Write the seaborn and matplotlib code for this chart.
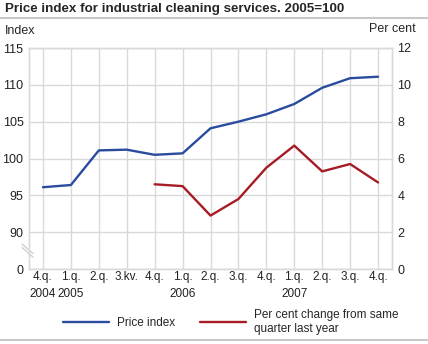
import matplotlib
matplotlib.use("Agg")
import matplotlib.pyplot as plt
import seaborn as sns
import pandas as pd
import numpy as np

sns.set_style("white")
plt.rcParams['font.family'] = ['Liberation Sans', 'DejaVu Sans']

quarters = ["4.q.\n2004", "1.q.\n2005", "2.q.", "3.kv.", "4.q.", "1.q.\n2006", "2.q.",
            "3.q.", "4.q.", "1.q.\n2007", "2.q.", "3.q.", "4.q."]
price_index = [96.1, 96.4, 101.1, 101.2, 100.5, 100.7, 104.1, 105.0, 106.0, 107.4, 109.6, 110.9, 111.1]
pct_change = [np.nan, np.nan, np.nan, np.nan, 4.6, 4.5, 2.9, 3.8, 5.5, 6.7, 5.3, 5.7, 4.7]

left_ticks = [85, 90, 95, 100, 105, 110, 115]
left_labels = ["0", "90", "95", "100", "105", "110", "115"]
right_ticks = [0, 2, 4, 6, 8, 10, 12]

blue = "#2a4b9e"
red = "#a51c24"
grid_c = "#d9d9d9"

df = pd.DataFrame({"x": np.arange(len(quarters)), "idx": price_index, "pct": pct_change})

fig = plt.figure(figsize=(4.28, 3.44), dpi=100)
ax = fig.add_axes([29/428, 75/344, 363/428, 221/344])
ax2 = ax.twinx()

sns.lineplot(data=df, x="x", y="idx", ax=ax, color=blue, lw=1.7, label="Price index", legend=False)
sns.lineplot(data=df.dropna(), x="x", y="pct", ax=ax2, color=red, lw=1.7,
             label="Per cent change from same\nquarter last year", legend=False)

ax.set_xlim(-0.5, len(quarters) - 0.5)
ax.set_ylim(85, 115)
ax2.set_ylim(0, 12)
ax.set_yticks(left_ticks)
ax.set_yticklabels(left_labels)
ax2.set_yticks(right_ticks)
ax.set_xticks(df["x"])
ax.set_xticklabels(quarters)
ax.set_xlabel("")
ax.set_ylabel("")
ax2.set_ylabel("")

ax.grid(True, color=grid_c, lw=1)
ax.set_axisbelow(True)
for a in (ax, ax2):
    for s in a.spines.values():
        s.set_color(grid_c)
        s.set_linewidth(1)
    a.tick_params(length=0, labelsize=9, colors="#222222", pad=4)
ax.tick_params(axis="x", labelsize=8.5, pad=1.5)
for lab in ax.get_xticklabels():
    lab.set_linespacing(1.6)

# axis break marker
ax.plot([0, 0], [0.068, 0.10], transform=ax.transAxes, color="white", lw=3,
        clip_on=False, zorder=5, solid_capstyle="butt")
for dy in (0, 0.016):
    ax.plot([-0.019, 0.011], [0.113 + dy - 0.016, 0.054 + dy], transform=ax.transAxes,
            color="#cfcfcf", lw=1, clip_on=False, zorder=6)

fig.text(5/428, 1 - 9/344, "Price index for industrial cleaning services. 2005=100",
         fontsize=9.6, fontweight="bold", va="center", ha="left")
fig.add_artist(plt.Line2D([0, 1], [1 - 18/344, 1 - 18/344], color="#c8c8c8", lw=1.5))
fig.add_artist(plt.Line2D([0, 1], [1 - 340/344, 1 - 340/344], color="#c8c8c8", lw=1.5))
fig.text(5/428, 1 - 31/344, "Index", fontsize=9, va="center", ha="left")
fig.text(416/428, 1 - 29/344, "Per cent", fontsize=9, va="center", ha="right")

h1, l1 = ax.get_legend_handles_labels()
h2, l2 = ax2.get_legend_handles_labels()
fig.legend(h1 + h2, l1 + l2, loc="center left", bbox_to_anchor=(52/428, 1 - 322/344), ncol=2,
           frameon=False, fontsize=8.5, handlelength=3.9, columnspacing=2.1, handletextpad=0.7)

fig.savefig("out.png", dpi=100)
